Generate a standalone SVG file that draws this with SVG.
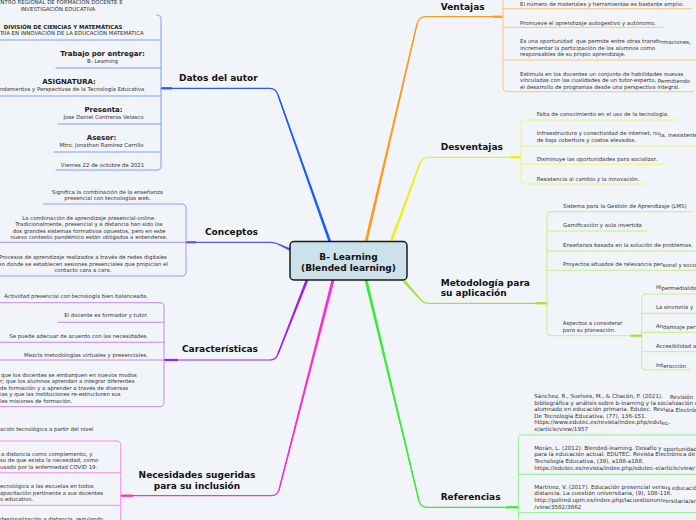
<svg xmlns="http://www.w3.org/2000/svg" width="696" height="520" viewBox="0 0 696 520">
<style>
.t{font-family:"DejaVu Sans",Verdana,sans-serif;font-size:5.4px;fill:#333}
.r{font-size:5.6px}
.sb{font-family:"DejaVu Sans",Verdana,sans-serif;font-size:5.4px;font-weight:bold;fill:#222}
.h{font-family:"DejaVu Sans",Verdana,sans-serif;font-size:7px;font-weight:bold;fill:#1a1a1a}
.b{font-family:"DejaVu Sans",Verdana,sans-serif;font-size:9px;font-weight:bold;fill:#111}
.m{text-anchor:middle}
.e{text-anchor:end}
.br{fill:none;stroke-width:1;stroke-linecap:round}
.ln{fill:none;stroke-width:1.2;stroke-linecap:round}
.j{fill:none;stroke-width:2.2}
</style>
<rect x="0" y="0" width="696" height="520" fill="#f1f4f9"/>

<g id="connectors">
  <path class="ln" stroke="#1f5cff" d="M330,242 L278,95 Q276,88.3 270,88.3 L161,88.3"/>
  <polygon fill="#1f5cff" points="331.3,241.5 278.6,94.8 277.4,95.2 328.7,242.5"/>
  <path class="j" stroke="#1f5cff" d="M161,88.3 H172"/>

  <path class="ln" stroke="#5b52ff" d="M291,250 L278,244 Q275,242.3 271,242.3 L186,242.3"/>
  <polygon fill="#5b52ff" points="291.6,248.7 278.2,243.4 277.8,244.6 290.4,251.3"/>
  <path class="j" stroke="#5b52ff" d="M186,242.3 H196"/>

  <path class="ln" stroke="#a020f0" d="M307,280 L278,354 Q276,360 270,360 L164,360"/>
  <polygon fill="#a020f0" points="305.7,279.5 277.4,353.8 278.6,354.2 308.3,280.5"/>
  <path class="j" stroke="#a020f0" d="M164,360 H178"/>

  <path class="ln" stroke="#ff2bd5" d="M333,280 L279,490 Q277,495.7 271,495.7 L120.7,495.7"/>
  <polygon fill="#ff2bd5" points="331.6,279.6 278.4,489.9 279.6,490.1 334.4,280.4"/>
  <path class="j" stroke="#ff2bd5" d="M120.7,495.7 H133"/>

  <path class="ln" stroke="#ff9a1a" d="M366,242 L417,24 Q419,16.7 425,16.7 L503,16.7"/>
  <polygon fill="#ff9a1a" points="367.4,242.3 417.6,24.1 416.4,23.9 364.6,241.7"/>
  <path class="j" stroke="#ff9a1a" d="M493,16.7 H503"/>

  <path class="ln" stroke="#f0f00c" d="M391,242 L420,163 Q422,157.3 428,157.3 L521,157.3"/>
  <polygon fill="#f0f00c" points="392.3,242.5 420.6,163.2 419.4,162.8 389.7,241.5"/>
  <path class="j" stroke="#f0f00c" d="M510,157.3 H521"/>

  <path class="ln" stroke="#9be83a" d="M404,281 L421,300 Q424,303.3 429,303.3 L547,303.3"/>
  <polygon fill="#9be83a" points="403,281.9 420.6,300.4 421.4,299.6 405,280.1"/>
  <path class="j" stroke="#9be83a" d="M535,303.3 H547"/>

  <path class="ln" stroke="#33ee33" d="M366,280 L419,501 Q421,507.3 427,507.3 L518.3,507.3"/>
  <polygon fill="#33ee33" points="364.6,280.3 418.4,501.1 419.6,500.9 367.4,279.7"/>
  <path class="j" stroke="#33ee33" d="M506,507.3 H518.3"/>

  <g stroke="#7d9dff">
    <path class="br" d="M157,15 Q161,15 161,19 L161,166 Q161,170 157,170"/>
    <path class="br" d="M0,40 H161 M56,68 H161 M0,96 H161 M58,124 H161 M54,152 H161 M56,170 H157"/>
  </g>
  <g stroke="#a592ff">
    <path class="br" d="M182,204 Q186,204 186,208 L186,272 Q186,276 182,276"/>
    <path class="br" d="M43,204 H182 M0,242.3 H186 M0,276 H182"/>
  </g>
  <g stroke="#c986f7">
    <path class="br" d="M160,302.7 Q164,302.7 164,306.7 L164,402.7 Q164,406.7 160,406.7"/>
    <path class="br" d="M0,302.7 H160 M58,322.3 H164 M0,342.3 H164 M0,360 H164 M0,406.7 H160"/>
  </g>
  <g stroke="#ff8ae6">
    <path class="br" d="M116.7,441 Q120.7,441 120.7,445 L120.7,521"/>
    <path class="br" d="M0,441 H116.7 M0,472.7 H120.7 M0,505.3 H120.7"/>
  </g>
  <g stroke="#ffc27a">
    <path class="br" d="M503,-2 L503,87.7 Q503,91.7 507,91.7 L693,91.7"/>
    <path class="br" d="M503,8.7 H692 M503,27.3 H663 M503,60 H697"/>
  </g>
  <g stroke="#f2f27a">
    <path class="br" d="M525,120 Q521,120 521,124 L521,180 Q521,184 525,184 L645,184"/>
    <path class="br" d="M525,120 H677 M521,146 H697 M521,164.3 H663"/>
  </g>
  <g stroke="#c3ef8d">
    <path class="br" d="M551,211.7 Q547,211.7 547,215.7 L547,331.7 Q547,335.7 551,335.7 L640,335.7"/>
    <path class="br" d="M551,211.7 H693 M547,231 H648 M547,251 H697 M547,270.3 H697"/>
    <path class="br" d="M645.7,294 Q641.7,294 641.7,298 L641.7,366 Q641.7,370 645.7,370 L690,370"/>
    <path class="br" d="M645.7,294 H697 M641.7,313.3 H697 M641.7,332.3 H697 M641.7,351.7 H697"/>
  </g>
  <path class="j" stroke="#9be83a" d="M630,335.7 H642"/>
  <g stroke="#8ff08f">
    <path class="br" d="M522.3,435 Q518.3,435 518.3,439 L518.3,521"/>
    <path class="br" d="M522.3,435 H697 M518.3,474.3 H697 M518.3,512.7 H697"/>
  </g>
</g>

<g id="central">
  <rect x="290" y="241.5" width="117" height="38.5" rx="4" fill="#cce2ea" stroke="#1a1a1a" stroke-width="1.5"/>
  <text class="b m" x="348.5" y="259.5">B- Learning</text>
  <text class="b m" x="348.5" y="270.5">(Blended learning)</text>
</g>

<g id="datos-del-autor">
  <text class="b" x="179" y="81">Datos del autor</text>
  <text class="t m" x="58" y="4">CENTRO REGIONAL DE FORMACIÓN DOCENTE E</text>
  <text class="t m" x="58" y="10.5">INVESTIGACIÓN EDUCATIVA</text>
  <text class="sb m" x="63" y="28.5">DIVISIÓN DE CIENCIAS Y MATEMÁTICAS</text>
  <text class="t m" x="63" y="35">MAESTRÍA EN INNOVACIÓN DE LA EDUCACIÓN MATEMÁTICA</text>
  <text class="h m" x="102.5" y="56">Trabajo por entregar:</text>
  <text class="t m" x="102.5" y="63">B- Learning</text>
  <text class="h m" x="69" y="84">ASIGNATURA:</text>
  <text class="t m" x="69" y="91">Fundamentos y Perspectivas de la Tecnología Educativa</text>
  <text class="h m" x="103.5" y="112">Presenta:</text>
  <text class="t m" x="103.5" y="119">Jose Daniel Contreras Velasco</text>
  <text class="h m" x="101.5" y="140">Asesor:</text>
  <text class="t m" x="101.5" y="147">Mtro. Jonathan Ramírez Carrillo</text>
  <text class="t m" x="102.5" y="167">Viernes 22 de octubre de 2021</text>
</g>

<g id="conceptos">
  <text class="b" x="205" y="234.5">Conceptos</text>
  <text class="t m" x="107.5" y="194">Significa la combinación de la enseñanza</text>
  <text class="t m" x="107.5" y="200">presencial con tecnologías web.</text>
  <text class="t m" x="89" y="219.5">La combinación de aprendizaje presencial-online.</text>
  <text class="t m" x="89" y="226">Tradicionalmente, presencial y a distancia han sido los</text>
  <text class="t m" x="89" y="232.5">dos grandes sistemas formativos opuestos, pero en este</text>
  <text class="t m" x="89" y="239">nuevo contexto pandémico están obligados a entenderse.</text>
  <text class="t m" x="83" y="259">Procesos de aprendizaje realizados a través de redes digitales</text>
  <text class="t m" x="83" y="265.5">en donde se establecen sesiones presenciales que propician el</text>
  <text class="t m" x="83" y="272">contacto cara a cara.</text>
</g>

<g id="caracteristicas">
  <text class="b" x="182" y="352">Características</text>
  <text class="t e" x="148" y="298">Actividad presencial con tecnología bien balanceada.</text>
  <text class="t e" x="148" y="317">El docente es formador y tutor.</text>
  <text class="t e" x="148" y="338">Se puede adecuar de acuerdo con las necesidades.</text>
  <text class="t e" x="148" y="357">Mezcla metodologías virtuales y presenciales.</text>
  <text class="t" x="1" y="376.5">que los docentes se embarquen en nuevos modos</text>
  <text class="t" x="0" y="383">r; que los alumnos aprendan a integrar diferentes</text>
  <text class="t" x="0" y="389.5">de formación y a aprender a través de diversas</text>
  <text class="t" x="0" y="396">ias y que las instituciones re-estructuren sus</text>
  <text class="t" x="0" y="402.5">les misiones de formación.</text>
</g>

<g id="necesidades">
  <text class="b m" x="197" y="477.5">Necesidades sugeridas</text>
  <text class="b m" x="197" y="488.5">para su inclusión</text>
  <text class="t" x="0" y="430.5">ación tecnológica a partir del nivel</text>
  <text class="t" x="1" y="455.5">a distancia como complemento, y</text>
  <text class="t" x="0" y="462">so de que exista la necesidad, como</text>
  <text class="t" x="0" y="468.5">usado por la enfermedad COVID 19.</text>
  <text class="t" x="0" y="488">ecnológica a las escuelas en todos</text>
  <text class="t" x="0" y="494.5">apacitación pertinente a sus docentes</text>
  <text class="t" x="0" y="501">o educativo.</text>
  <text class="t" x="0" y="520.5">desinnalización a distancia, regulando</text>
</g>

<g id="ventajas">
  <text class="b" x="440.7" y="9.5">Ventajas</text>
  <text class="t" x="520" y="5.5">El número de materiales y herramientas es bastante amplio.</text>
  <text class="t" x="520" y="24.7">Promueve el aprendizaje autogestivo y autónomo.</text>
  <text class="t" x="520" y="43" xml:space="preserve">Es una oportunidad  que permite entre otras transfo<tspan dy="1.4">rmaciones,</tspan></text>
  <text class="t" x="520" y="50.3">incrementar la participación de los alumnos como</text>
  <text class="t" x="520" y="56.3">responsables de su propio aprendizaje.</text>
  <text class="t" x="520" y="76">Estimula en los docentes un conjunto de habilidades nuevas</text>
  <text class="t" x="520" y="82">vinculadas con las cualidades de un tutor-experto,<tspan dx="1.6" dy="1.4">Permitiendo</tspan></text>
  <text class="t" x="520" y="88.7">el desarrollo de programas desde una perspectiva integral.</text>
</g>

<g id="desventajas">
  <text class="b" x="440.7" y="149.5">Desventajas</text>
  <text class="t" x="536.7" y="116">Falta de conocimiento en el uso de la tecnología.</text>
  <text class="t" x="536.7" y="135.3">Infraestructura y conectividad de internet, nu<tspan dy="1.4">la, inexistente</tspan></text>
  <text class="t" x="536.7" y="142">de baja cobertura y costos elevados.</text>
  <text class="t" x="536.7" y="161">Disminuye las oportunidades para socializar.</text>
  <text class="t" x="536.7" y="180.7">Resistencia al cambio y la innovación.</text>
</g>

<g id="metodologia">
  <text class="b" x="440.7" y="285.8">Metodología para</text>
  <text class="b" x="440.7" y="296">su aplicación</text>
  <text class="t" x="563" y="208">Sistema para la Gestión de Aprendizaje (LMS)</text>
  <text class="t" x="563" y="227">Gamificación y aula invertida</text>
  <text class="t" x="563" y="247">Enseñanza basada en la solución de problemas.</text>
  <text class="t" x="563" y="266">Proyectos situados de relevancia per<tspan dy="1.4">sonal y social</tspan></text>
  <text class="t" x="562.7" y="324.7">Aspectos a considerar</text>
  <text class="t" x="562.7" y="332.3">para su planeación.</text>
  <text class="t" x="656" y="288.8">Hi<tspan dy="1.4">permedialidad</tspan></text>
  <text class="t" x="656" y="309.3">La sincronía y</text>
  <text class="t" x="656" y="327.5">An<tspan dy="1.4">damiaje per</tspan></text>
  <text class="t" x="656" y="348">Accesibilidad a</text>
  <text class="t" x="656" y="367">Int<tspan dy="1.4">eracción</tspan></text>
</g>

<g id="referencias">
  <text class="b" x="440.7" y="500">Referencias</text>
  <text class="t r" x="534.3" y="398">Sánchez, R., Suelves, M., &amp; Chacón, P. (2021).<tspan dx="7" dy="1.4">Revisión</tspan></text>
  <text class="t r" x="534.3" y="404.7">bibliográfica y análisis sobre b-learning y la socialización del</text>
  <text class="t r" x="534.3" y="411">alumnado en educación primaria. Edutec. Revi<tspan dy="1.4">sta Electrónica</tspan></text>
  <text class="t r" x="534.3" y="417.7">De Tecnología Educativa, (77), 136-151.</text>
  <text class="t r" x="534.3" y="424">https://www.edutec.es/revista/index.php/edut<tspan dy="1.4">ec-</tspan></text>
  <text class="t r" x="534.3" y="430.7">e/article/view/1957</text>
  <text class="t r" x="534.3" y="449.7">Morán, L. (2012). Blended-learning. Desafío y<tspan dx="1.6" dy="1.4">oportunidad</tspan></text>
  <text class="t r" x="534.3" y="456">para la educación actual. EDUTEC. Revista Electrónica de</text>
  <text class="t r" x="534.3" y="462.7">Tecnología Educativa, (39), a188-a188.</text>
  <text class="t r" x="534.3" y="469.7">https://edutec.es/revista/index.php/edutec-e/article/view/</text>
  <text class="t r" x="534.3" y="488.7">Martínez, V. (2017). Educación presencial versu<tspan dy="1.4">s educación a</tspan></text>
  <text class="t r" x="534.3" y="495.3">distancia. La cuestión universitaria, (9), 108-116.</text>
  <text class="t r" x="534.3" y="502">http://polired.upm.es/index.php/lacuestionuniv<tspan dy="1.4">ersitaria/article</tspan></text>
  <text class="t r" x="534.3" y="508.7">/view/3582/3662</text>
</g>
</svg>
